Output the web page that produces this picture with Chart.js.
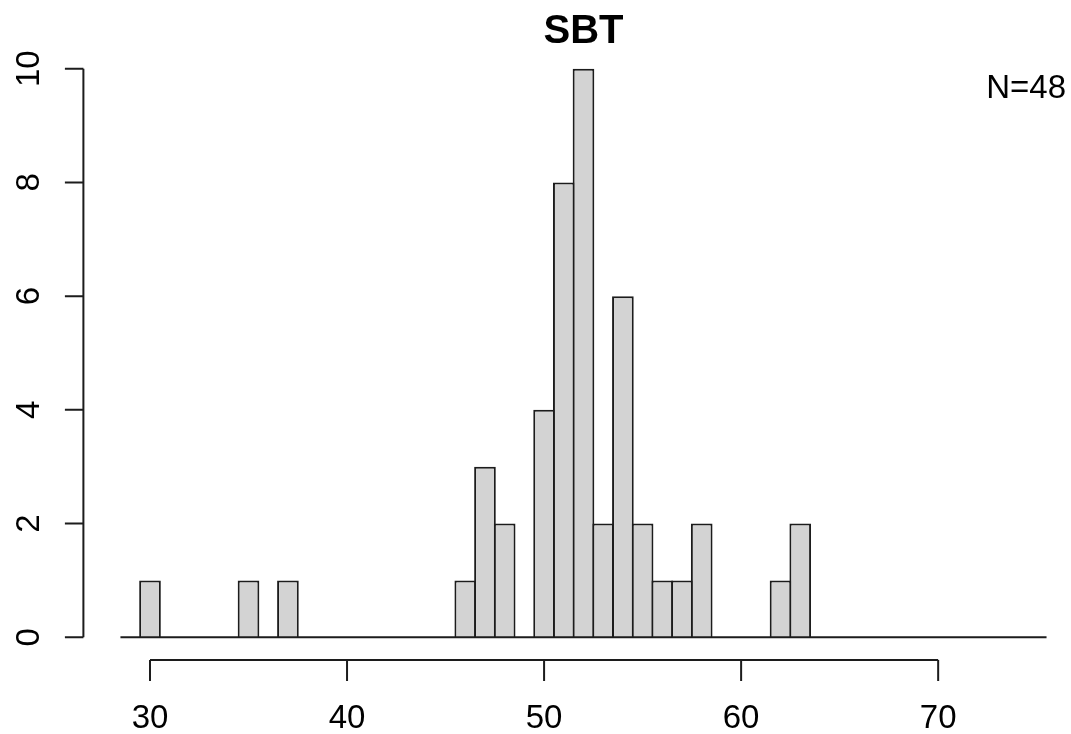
<!DOCTYPE html>
<html>
<head>
<meta charset="utf-8">
<title>SBT</title>
<script src="https://cdn.jsdelivr.net/npm/chart.js@4/dist/chart.umd.min.js"></script>
<style>
  html, body { margin: 0; padding: 0; background: #fff; }
  canvas { display: block; }
</style>
</head>
<body>
<canvas id="hist" width="1071" height="734"></canvas>
<script>
// Histogram data (bin width 1, bins centred on integers)
const binCenters = [29, 30, 31, 32, 33, 34, 35, 36, 37, 38, 39, 40, 41, 42, 43, 44, 45, 46,
  47, 48, 49, 50, 51, 52, 53, 54, 55, 56, 57, 58, 59, 60, 61, 62, 63, 64, 65, 66, 67, 68,
  69, 70, 71, 72, 73, 74, 75];
const counts = [0, 1, 0, 0, 0, 0, 1, 0, 1, 0, 0, 0, 0, 0, 0, 0, 0, 1,
  3, 2, 0, 4, 8, 10, 2, 6, 2, 1, 1, 2, 0, 0, 0, 1, 2, 0, 0, 0, 0, 0,
  0, 0, 0, 0, 0, 0, 0];
const xTicks = [30, 40, 50, 60, 70];
const yTicks = [0, 2, 4, 6, 8, 10];
const titleText = 'SBT';
const nLabel = 'N=48';

const FONT = '"Liberation Sans", Arial, sans-serif';
const LINE = '#1c1c1c';
const BORDER_W = 2;

// R-style axis range: data range extended by 4% on each side
const xLo = binCenters[0] - 0.5;
const xHi = binCenters[binCenters.length - 1] + 0.5;
const xPad = (xHi - xLo) * 0.04;
const yPad = 10 * 0.04;

// Draws the R base-graphics look: detached axes, rotated y labels, title, N label
const rAxes = {
  id: 'rAxes',
  afterDatasetsDraw(chart) {
    const { ctx, chartArea, scales } = chart;
    const x = scales.x, y = scales.y;
    ctx.save();
    ctx.strokeStyle = LINE;
    ctx.lineWidth = BORDER_W;
    ctx.fillStyle = '#000';

    // baseline under empty bins
    ctx.beginPath();
    ctx.moveTo(x.getPixelForValue(xLo), y.getPixelForValue(0));
    ctx.lineTo(x.getPixelForValue(xHi), y.getPixelForValue(0));
    ctx.stroke();

    // y axis
    const ax = chartArea.left;
    ctx.beginPath();
    ctx.moveTo(ax, y.getPixelForValue(yTicks[0]));
    ctx.lineTo(ax, y.getPixelForValue(yTicks[yTicks.length - 1]));
    yTicks.forEach(v => {
      const py = y.getPixelForValue(v);
      ctx.moveTo(ax, py);
      ctx.lineTo(ax - 18.5, py);
    });
    ctx.stroke();
    ctx.font = '33px ' + FONT;
    ctx.textAlign = 'center';
    ctx.textBaseline = 'alphabetic';
    yTicks.forEach(v => {
      ctx.save();
      ctx.translate(39, y.getPixelForValue(v));
      ctx.rotate(-Math.PI / 2);
      ctx.fillText(String(v), 0, 0);
      ctx.restore();
    });

    // x axis
    const ay = chartArea.bottom;
    ctx.beginPath();
    ctx.moveTo(x.getPixelForValue(xTicks[0]), ay);
    ctx.lineTo(x.getPixelForValue(xTicks[xTicks.length - 1]), ay);
    xTicks.forEach(v => {
      const px = x.getPixelForValue(v);
      ctx.moveTo(px, ay);
      ctx.lineTo(px, ay + 21);
    });
    ctx.stroke();
    xTicks.forEach(v => {
      ctx.fillText(String(v), x.getPixelForValue(v), 728);
    });

    // title, centred on the plot region
    ctx.font = 'bold 40px ' + FONT;
    ctx.fillText(titleText, x.getPixelForValue((xLo + xHi) / 2), 43);

    // sample size label
    ctx.font = '33px ' + FONT;
    ctx.textAlign = 'right';
    ctx.fillText(nLabel, 1066, 98);
    ctx.restore();
  }
};

const ctx = document.getElementById('hist').getContext('2d');
const pad = { left: 83.4, top: 46, bottom: 74 };
// plot region runs past the right edge of the image, as in the reference
const xMin = xLo - xPad;
const pxPerUnit = (150 - pad.left) / (30 - xMin);
const xMax = xMin + (1071 - pad.left) / pxPerUnit;

new Chart(ctx, {
  type: 'bar',
  data: {
    datasets: [{
      data: counts.map((c, i) => ({ x: binCenters[i], y: c })),
      backgroundColor: '#d3d3d3',
      borderColor: LINE,
      borderWidth: BORDER_W,
      // slightly wider bars so neighbouring borders overlap like R's rect()
      barPercentage: 1.1,
      categoryPercentage: 1
    }]
  },
  options: {
    responsive: false,
    devicePixelRatio: 1,
    animation: false,
    layout: { padding: { left: pad.left, right: 0, top: pad.top, bottom: pad.bottom } },
    plugins: { legend: { display: false }, tooltip: { enabled: false }, title: { display: false } },
    scales: {
      x: { type: 'linear', offset: false, min: xMin, max: xMax, display: false },
      y: { min: -yPad, max: 10 + yPad, display: false }
    }
  },
  plugins: [rAxes]
});
</script>
</body>
</html>
